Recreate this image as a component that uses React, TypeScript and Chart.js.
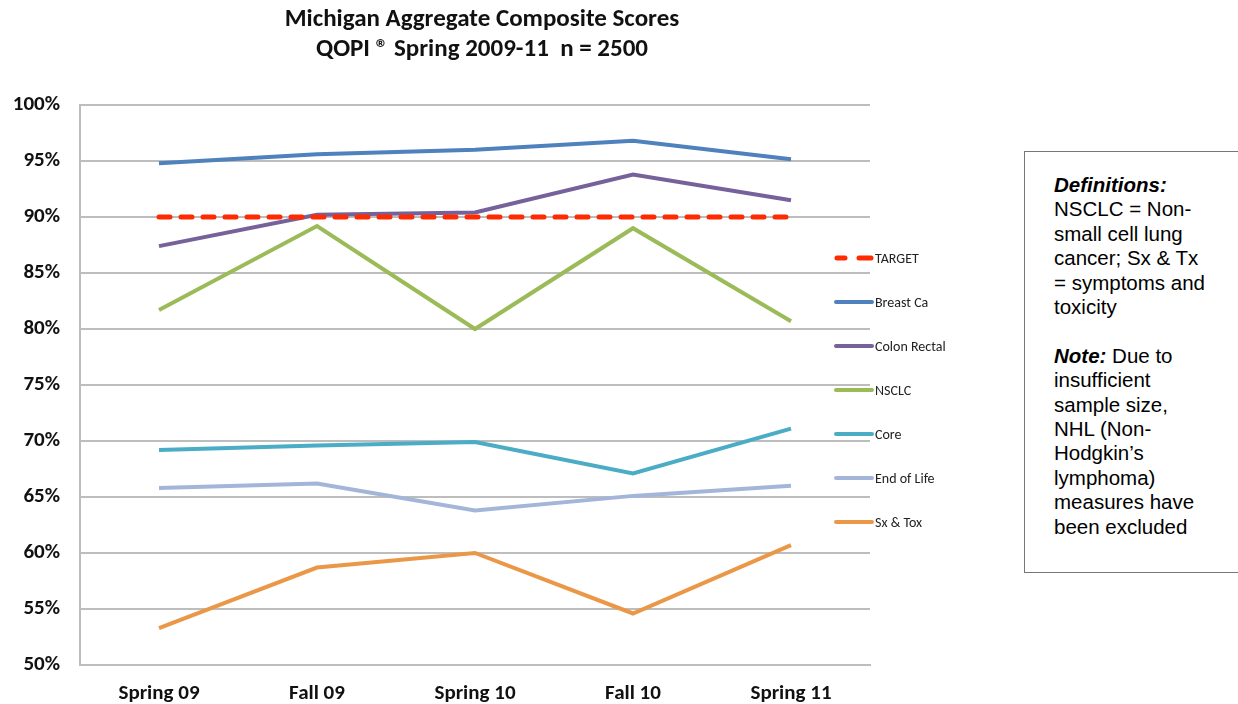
import React, { useEffect, useRef } from "react";
import { Chart, registerables } from "chart.js";
Chart.register(...registerables);

const categories = ["Spring 09", "Fall 09", "Spring 10", "Fall 10", "Spring 11"];
const target = [90, 90, 90, 90, 90];
const breastCa = [94.8, 95.6, 96.0, 96.8, 95.15];
const colonRectal = [87.4, 90.2, 90.4, 93.8, 91.5];
const nsclc = [81.7, 89.2, 80.0, 89.0, 80.7];
const core = [69.2, 69.6, 69.9, 67.1, 71.1];
const endOfLife = [65.8, 66.2, 63.8, 65.1, 66.0];
const sxTox = [53.3, 58.7, 60.0, 54.6, 60.7];
const titleLines = ["Michigan Aggregate Composite Scores", "QOPI \u00AE Spring 2009-11  n = 2500"];

const FONT = "Carlito, Lato, sans-serif";

const titlePlugin = {
  id: "customTitle",
  afterDraw(chart: any) {
    const ctx = chart.ctx;
    ctx.save();
    ctx.fillStyle = "#111";
    ctx.font = `bold 25px ${FONT}`;
    ctx.textAlign = "center";
    ctx.textBaseline = "middle";
    titleLines.forEach((t, i) => ctx.fillText(t, 482, 20 + i * 30));
    ctx.restore();
  },
};

const legendPlugin = {
  id: "customLegend",
  afterDraw(chart: any) {
    const ctx = chart.ctx;
    ctx.save();
    chart.data.datasets.forEach((ds: any, i: number) => {
      const y = 258 + i * 44;
      ctx.strokeStyle = ds.borderColor;
      ctx.lineWidth = ds.borderWidth;
      ctx.lineCap = "round";
      if (ds.borderDash && ds.borderDash.length) {
        ctx.beginPath();
        ctx.moveTo(837, y);
        ctx.lineTo(845, y);
        ctx.moveTo(859, y);
        ctx.lineTo(871, y);
        ctx.stroke();
      } else {
        ctx.beginPath();
        ctx.moveTo(836, y);
        ctx.lineTo(872, y);
        ctx.stroke();
      }
      ctx.fillStyle = "#222";
      ctx.font = `14px ${FONT}`;
      ctx.textBaseline = "middle";
      ctx.textAlign = "left";
      ctx.fillText(ds.label, 875, y + 1);
    });
    ctx.restore();
  },
};

export default function App() {
  const ref = useRef<HTMLCanvasElement>(null);
  useEffect(() => {
    if (!ref.current) return;
    const mk = (label: string, data: number[], color: string, extra: any = {}) => ({
      label,
      data,
      borderColor: color,
      backgroundColor: color,
      borderWidth: 4,
      pointRadius: 0,
      tension: 0,
      fill: false,
      ...extra,
    });
    const chart = new Chart(ref.current, {
      type: "line",
      data: {
        labels: categories,
        datasets: [
          mk("TARGET", target, "#FF2A00", { borderWidth: 5, borderDash: [11, 11], borderCapStyle: "round" }),
          mk("Breast Ca", breastCa, "#4F81BD"),
          mk("Colon Rectal", colonRectal, "#76619A"),
          mk("NSCLC", nsclc, "#9BBB59"),
          mk("Core", core, "#4BACC6"),
          mk("End of Life", endOfLife, "#A3B6D9"),
          mk("Sx & Tox", sxTox, "#EA9848"),
        ],
      },
      options: {
        animation: false,
        responsive: false,
        maintainAspectRatio: false,
        layout: { padding: { left: 0, right: 130, top: 105, bottom: 0 } },
        plugins: {
          legend: { display: false },
          tooltip: { enabled: false },
          title: { display: false },
        },
        scales: {
          x: {
            offset: true,
            grid: { display: false, drawTicks: false },
            border: { display: true, color: "#BDBDBD", width: 2 },
            ticks: {
              color: "#111",
              font: { family: FONT, size: 21, weight: "bold" },
              padding: 16,
              maxRotation: 0,
            },
            afterFit: (s: any) => {
              s.height = 704 - 665;
            },
          },
          y: {
            min: 50,
            max: 100,
            grid: { color: "#BDBDBD", lineWidth: 2, drawTicks: false },
            border: { display: true, color: "#BDBDBD", width: 2 },
            ticks: {
              stepSize: 5,
              color: "#111",
              font: { family: FONT, size: 21, weight: "bold" },
              padding: 20,
              callback: (v: any) => v + "%",
            },
            afterFit: (s: any) => {
              s.width = 80;
            },
          },
        },
      },
      plugins: [titlePlugin, legendPlugin],
    });
    return () => chart.destroy();
  }, []);

  const lineStyle: React.CSSProperties = { whiteSpace: "nowrap" };
  return (
    <div style={{ position: "absolute", left: 0, top: 0, width: 1238, height: 704, background: "#fff" }}>
      <canvas ref={ref} width={1000} height={704} style={{ position: "absolute", left: 0, top: 0 }} />
      <div
        style={{
          position: "absolute",
          left: 1024,
          top: 151,
          width: 230,
          height: 422,
          border: "1px solid #777",
          boxSizing: "border-box",
          fontFamily: "'Liberation Sans', Arial, sans-serif",
          fontSize: 20.5,
          lineHeight: "24.4px",
          color: "#000",
          padding: "21px 0 0 29px",
        }}
      >
        <div style={lineStyle}><b><i>Definitions:</i></b></div>
        <div style={lineStyle}>NSCLC = Non-</div>
        <div style={lineStyle}>small cell lung</div>
        <div style={lineStyle}>cancer; Sx &amp; Tx</div>
        <div style={lineStyle}>= symptoms and</div>
        <div style={lineStyle}>toxicity</div>
        <div style={{ height: 24.4 }} />
        <div style={lineStyle}><b><i>Note:</i></b> Due to</div>
        <div style={lineStyle}>insufficient</div>
        <div style={lineStyle}>sample size,</div>
        <div style={lineStyle}>NHL (Non-</div>
        <div style={lineStyle}>Hodgkin’s</div>
        <div style={lineStyle}>lymphoma)</div>
        <div style={lineStyle}>measures have</div>
        <div style={lineStyle}>been excluded</div>
      </div>
    </div>
  );
}
